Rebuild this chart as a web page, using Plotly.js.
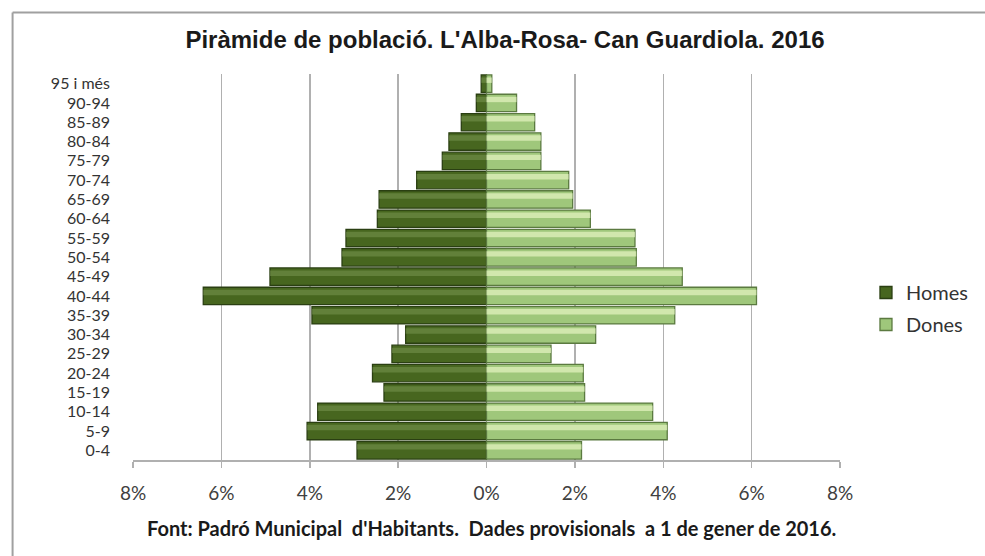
<!DOCTYPE html>
<html>
<head>
<meta charset="utf-8">
<script src="https://cdn.plot.ly/plotly-3.0.1.min.js"></script>
<style>
html,body{margin:0;padding:0;background:#fff;}
#chart{width:985px;height:556px;}
</style>
</head>
<body>
<div id="chart"></div>
<script>
// Age groups (bottom to top)
const ageGroups = ["0-4","5-9","10-14","15-19","20-24","25-29","30-34","35-39","40-44","45-49",
                   "50-54","55-59","60-64","65-69","70-74","75-79","80-84","85-89","90-94","95 i més"];
// Percent of population, men (Homes)
const homes = [2.93, 4.06, 3.82, 2.32, 2.58, 2.14, 1.83, 3.95, 6.41, 4.90,
               3.27, 3.18, 2.47, 2.43, 1.58, 1.00, 0.85, 0.57, 0.23, 0.12];
// Percent of population, women (Dones)
const dones = [2.15, 4.09, 3.76, 2.22, 2.19, 1.46, 2.47, 4.26, 6.11, 4.43,
               3.39, 3.36, 2.35, 1.95, 1.86, 1.23, 1.23, 1.09, 0.68, 0.12];
// X tick values and labels
const xTickVals = [-8, -6, -4, -2, 0, 2, 4, 6, 8];
const xTickText = ["8%", "6%", "4%", "2%", "0%", "2%", "4%", "6%", "8%"];

const M = {l: 132.5, r: 145, t: 74, b: 96};
const W = 985, H = 556;
const pw = W - M.l - M.r, ph = H - M.t - M.b;
const px = v => (v - M.l) / pw;
const py = v => 1 - (v - M.t) / ph;

const homesX = homes.map(v => -v);
const traces = [
  {
    type: 'bar', orientation: 'h', name: 'Homes', legendgroup: 'h',
    y: ageGroups, x: homesX,
    marker: {color: '#47661f', line: {color: '#2a3f12', width: 1.3}},
    hoverinfo: 'skip'
  },
  {
    type: 'bar', orientation: 'h', name: 'Dones', legendgroup: 'd',
    y: ageGroups, x: dones,
    marker: {color: '#9fc77b', line: {color: '#5b7a40', width: 1.3}},
    hoverinfo: 'skip'
  },
  // highlight bands (bevel look)
  {
    type: 'bar', orientation: 'h', showlegend: false,
    y: ageGroups, x: homesX, offset: 0.04, width: 0.28,
    marker: {color: 'rgba(120,150,80,0.55)', line: {width: 0}},
    hoverinfo: 'skip'
  },
  {
    type: 'bar', orientation: 'h', showlegend: false,
    y: ageGroups, x: dones, offset: 0.04, width: 0.28,
    marker: {color: 'rgba(225,242,190,0.75)', line: {width: 0}},
    hoverinfo: 'skip'
  }
];

const layout = {
  width: W, height: H,
  margin: M,
  paper_bgcolor: '#fff', plot_bgcolor: '#fff',
  barmode: 'overlay', bargap: 0.1,
  title: {
    text: "Piràmide de població. L'Alba-Rosa- Can Guardiola. 2016",
    font: {family: 'Liberation Sans, Arial, sans-serif', size: 24, color: '#1a1a1a', weight: 'bold'},
    xref: 'container', x: 505 / W, xanchor: 'center',
    yref: 'container', y: 1 - 40 / H, yanchor: 'middle'
  },
  xaxis: {
    range: [-8, 8], tickvals: xTickVals, ticktext: xTickText,
    showgrid: true, gridcolor: '#b0b0b0', gridwidth: 1.5,
    zeroline: true, zerolinecolor: '#b8b8b8', zerolinewidth: 1,
    showline: true, linecolor: '#b0b0b0', linewidth: 1.5,
    ticks: 'outside', ticklen: 6, tickcolor: '#b0b0b0', tickwidth: 1.5,
    tickfont: {family: 'Lato, sans-serif', size: 19, color: '#404040'},
    ticklabelstandoff: 10, fixedrange: true
  },
  yaxis: {
    type: 'category', categoryorder: 'array', categoryarray: ageGroups,
    tickmode: 'array', tickvals: ageGroups, ticktext: ageGroups,
    showgrid: false, zeroline: false, showline: false, ticks: '',
    tickfont: {family: 'Lato, sans-serif', size: 16, color: '#333333'},
    ticklabelstandoff: 22, fixedrange: true
  },
  legend: {
    x: px(866), xanchor: 'left', y: py(273), yanchor: 'top',
    font: {family: 'Lato, sans-serif', size: 20, color: '#333333'},
    traceorder: 'grouped', tracegroupgap: 3, bgcolor: 'rgba(0,0,0,0)'
  },
  annotations: [{
    text: "Font: Padró Municipal  d'Habitants.  Dades provisionals  a 1 de gener de 2016.",
    xref: 'paper', yref: 'paper', x: px(491), y: py(528),
    xanchor: 'center', yanchor: 'middle', showarrow: false,
    font: {family: 'Lato, sans-serif', size: 20, color: '#1a1a1a', weight: 'bold'}
  }],
  shapes: [
    {type: 'line', xref: 'paper', yref: 'paper', x0: px(12), x1: px(990), y0: py(12.5), y1: py(12.5),
     line: {color: '#a0a0a0', width: 2}},
    {type: 'line', xref: 'paper', yref: 'paper', x0: px(12), x1: px(12), y0: py(12.5), y1: py(560),
     line: {color: '#a0a0a0', width: 2}}
  ],
  showlegend: true
};

Plotly.newPlot('chart', traces, layout, {displayModeBar: false, staticPlot: true});
</script>
</body>
</html>
